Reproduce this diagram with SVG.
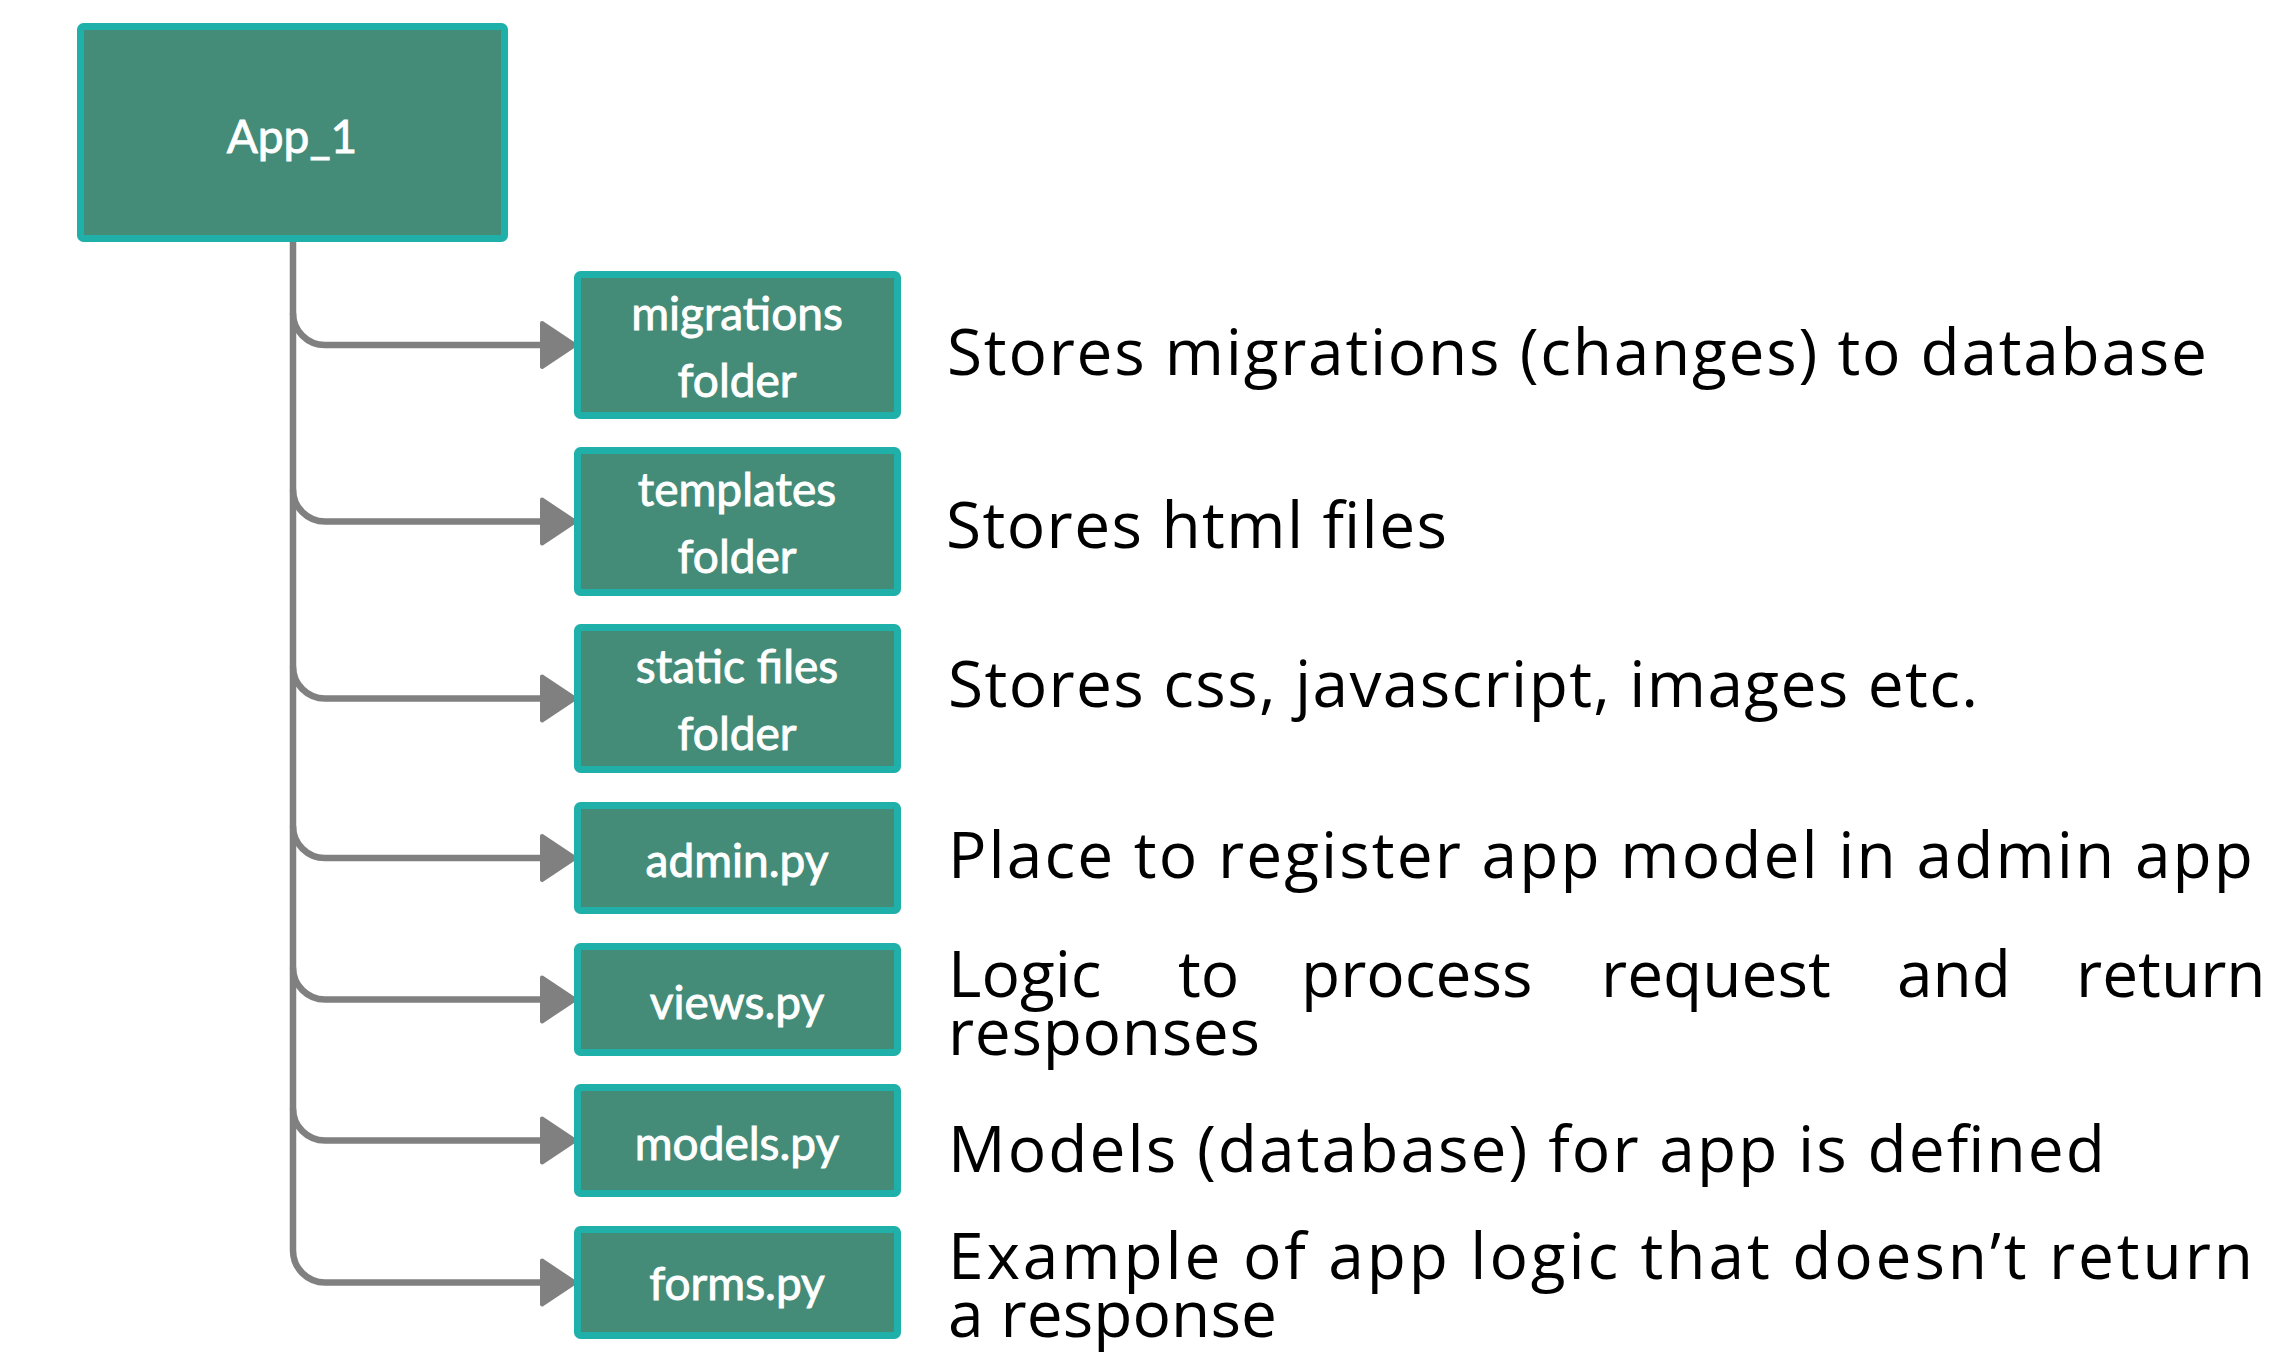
<svg xmlns="http://www.w3.org/2000/svg" width="2276" height="1361" viewBox="0 0 2276 1361">
<style>
.box{fill:#448C78;stroke:#20B0AA;stroke-width:7}
.lbl{font-family:Lato,"Liberation Sans",sans-serif;font-size:46px;fill:#ffffff;stroke:#ffffff;stroke-width:0.9;text-anchor:middle}
.conn{fill:none;stroke:#808080;stroke-width:6.5}
.head{fill:#808080;stroke:#808080;stroke-width:4;stroke-linejoin:round}
.desc{font-family:"Open Sans","Noto Sans",sans-serif;font-size:64px;fill:#000000}
</style>
<rect width="2276" height="1361" fill="#ffffff"/>
<g id="connectors">
<path class="conn" d="M293 242 V1250.5 A32 32 0 0 0 325 1282.5 H545"/>
<path class="conn" d="M293 313 A32 32 0 0 0 325 345 H545"/>
<path class="conn" d="M293 489.5 A32 32 0 0 0 325 521.5 H545"/>
<path class="conn" d="M293 666.5 A32 32 0 0 0 325 698.5 H545"/>
<path class="conn" d="M293 826 A32 32 0 0 0 325 858 H545"/>
<path class="conn" d="M293 967.5 A32 32 0 0 0 325 999.5 H545"/>
<path class="conn" d="M293 1108.5 A32 32 0 0 0 325 1140.5 H545"/>
<polygon class="head" points="542,323 575,345 542,367"/>
<polygon class="head" points="542,499.5 575,521.5 542,543.5"/>
<polygon class="head" points="542,676.5 575,698.5 542,720.5"/>
<polygon class="head" points="542,836 575,858 542,880"/>
<polygon class="head" points="542,977.5 575,999.5 542,1021.5"/>
<polygon class="head" points="542,1118.5 575,1140.5 542,1162.5"/>
<polygon class="head" points="542,1260.5 575,1282.5 542,1304.5"/>
</g>
<g id="app1">
<rect class="box" x="80.5" y="26.5" width="424" height="212" rx="3"/>
<text class="lbl" x="292" y="153">App_1</text>
</g>
<g id="migrations">
<rect class="box" x="577.5" y="274.5" width="320" height="141" rx="3"/>
<text class="lbl" x="737" y="330">migrations</text>
<text class="lbl" x="737" y="397">folder</text>
</g>
<g id="templates">
<rect class="box" x="577.5" y="450.5" width="320" height="142" rx="3"/>
<text class="lbl" x="737" y="506">templates</text>
<text class="lbl" x="737" y="573">folder</text>
</g>
<g id="static">
<rect class="box" x="577.5" y="627.5" width="320" height="142" rx="3"/>
<text class="lbl" x="737" y="683">static files</text>
<text class="lbl" x="737" y="750">folder</text>
</g>
<g id="admin">
<rect class="box" x="577.5" y="805.5" width="320" height="105" rx="3"/>
<text class="lbl" x="737" y="877">admin.py</text>
</g>
<g id="views">
<rect class="box" x="577.5" y="946.5" width="320" height="106" rx="3"/>
<text class="lbl" x="737" y="1019">views.py</text>
</g>
<g id="models">
<rect class="box" x="577.5" y="1087.5" width="320" height="106" rx="3"/>
<text class="lbl" x="737" y="1160">models.py</text>
</g>
<g id="forms">
<rect class="box" x="577.5" y="1229.5" width="320" height="106" rx="3"/>
<text class="lbl" x="737" y="1300">forms.py</text>
</g>
<g id="descriptions">
<text class="desc" x="947" y="375" textLength="1260">Stores migrations (changes) to database</text>
<text class="desc" x="946" y="548" textLength="501">Stores html files</text>
<text class="desc" x="948" y="707" textLength="1030">Stores css, javascript, images etc.</text>
<text class="desc" x="948" y="878" textLength="1305">Place to register app model in admin app</text>
<text class="desc" y="997"><tspan x="948">Logic</tspan><tspan x="1178">to</tspan><tspan x="1301">process</tspan><tspan x="1601">request</tspan><tspan x="1897">and</tspan><tspan x="2076">return</tspan></text>
<text class="desc" x="948" y="1055" textLength="312">responses</text>
<text class="desc" x="948" y="1172" textLength="1157">Models (database) for app is defined</text>
<text class="desc" x="948" y="1279" textLength="1305">Example of app logic that doesn’t return</text>
<text class="desc" x="948" y="1337" textLength="329">a response</text>
</g>
</svg>
